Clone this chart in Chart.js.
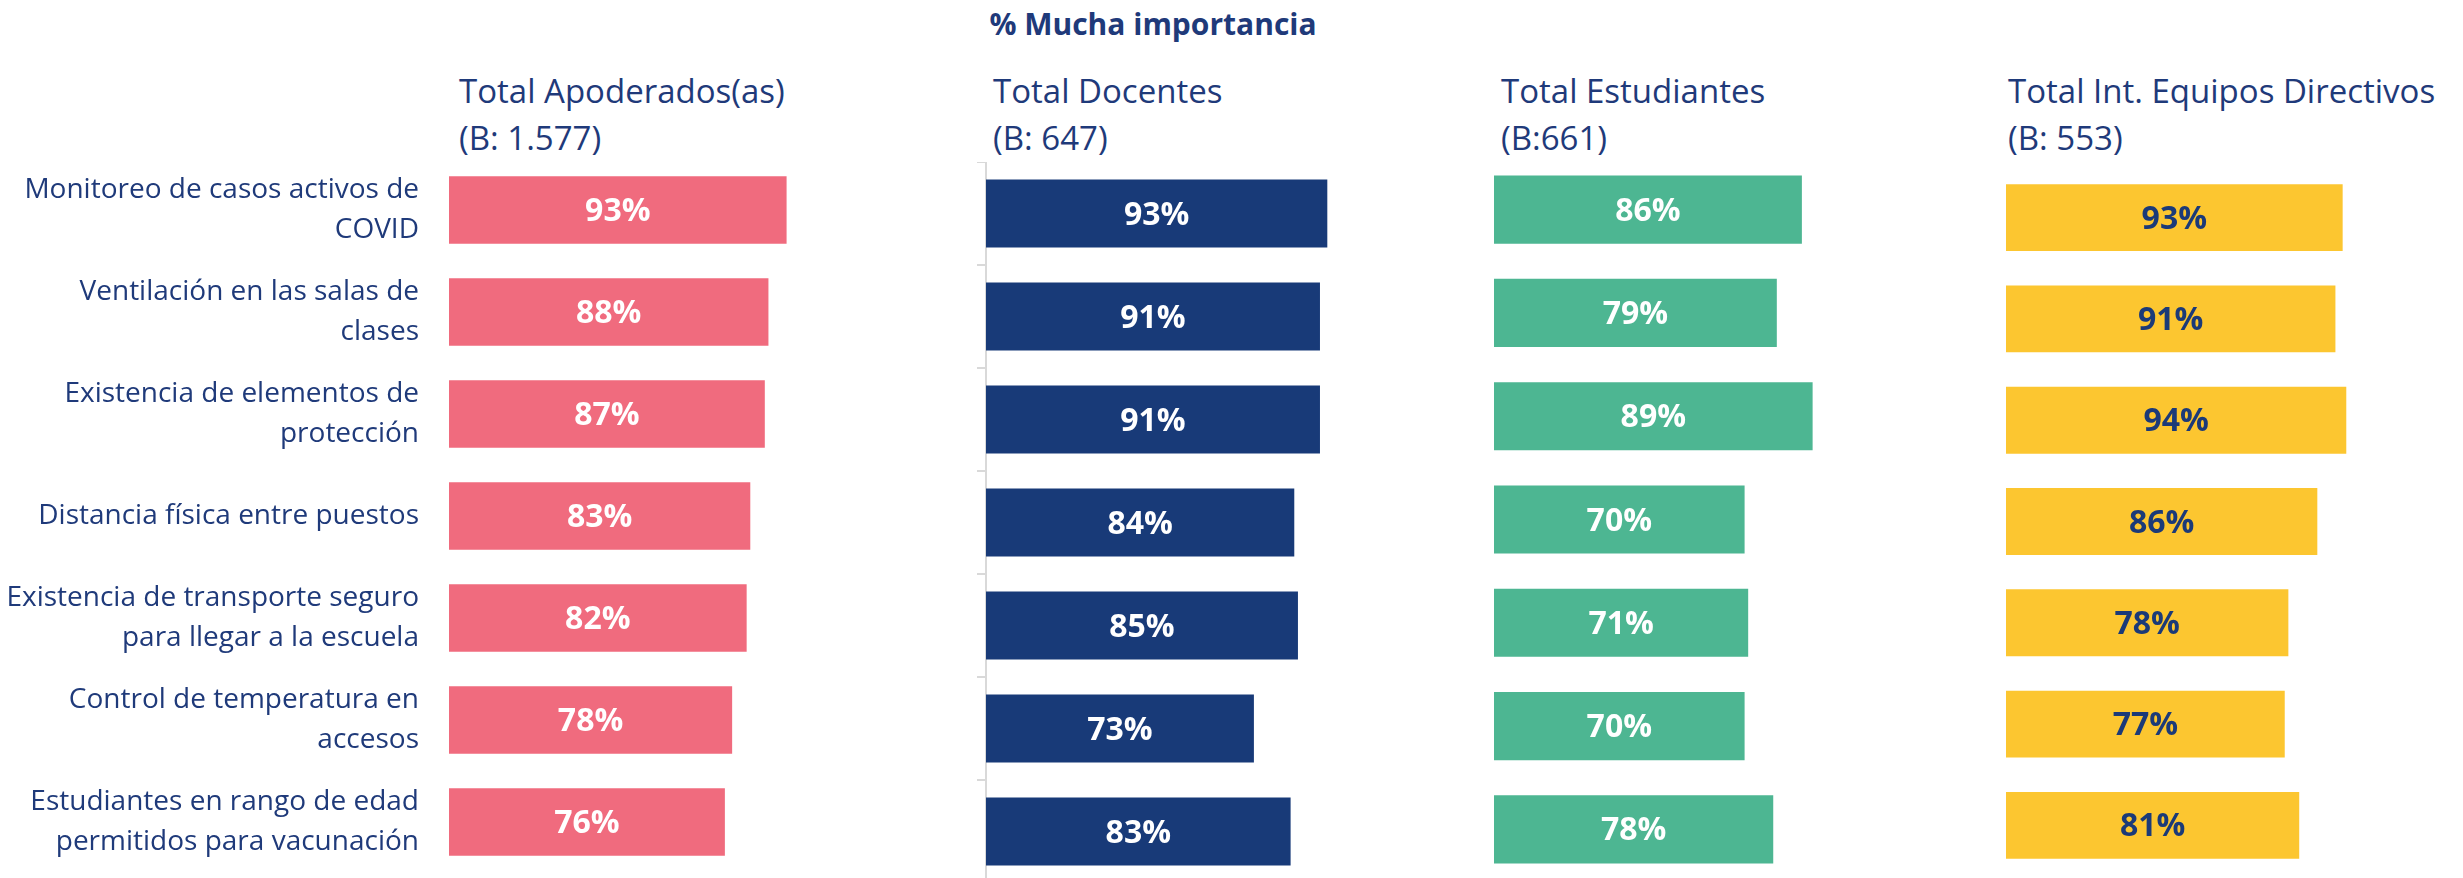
<!DOCTYPE html>
<html>
<head>
<meta charset="utf-8">
<script src="https://cdn.jsdelivr.net/npm/chart.js@4.4.0/dist/chart.umd.min.js"></script>
<style>
    body { margin: 0; width: 2463px; height: 878px; overflow: hidden; background: #fff; font-family: 'Open Sans', sans-serif; color: #1F3A7A; }
    canvas { position: absolute; }
    .title { position: absolute; top: 3px; left: 0; width: 2306px; text-align: center; font-size: 30px; font-weight: bold; }
    .head { position: absolute; top: 67px; font-size: 33px; line-height: 47px; white-space: nowrap; }
</style>
</head>
<body>
<div class="title">% Mucha importancia</div>
<div class="head" style="left:459px">Total Apoderados(as)<br>(B: 1.577)</div>
<div class="head" style="left:993px">Total Docentes<br>(B: 647)</div>
<div class="head" style="left:1501px">Total Estudiantes<br>(B:661)</div>
<div class="head" style="left:2008px">Total Int. Equipos Directivos<br>(B: 553)</div>

<canvas id="apoderadosChart" width="812" height="714" style="left:0px;top:159px"></canvas>
<canvas id="docentesChart" width="387" height="721" style="left:966px;top:162px"></canvas>
<canvas id="estudiantesChart" width="358" height="723" style="left:1494px;top:158px"></canvas>
<canvas id="directivosChart" width="362" height="709" style="left:2006px;top:167px"></canvas>

<script>
// ---------------- Data ----------------
const categories = [
    ['Monitoreo de casos activos de', 'COVID'],
    ['Ventilación en las salas de', 'clases'],
    ['Existencia de elementos de', 'protección'],
    'Distancia física entre puestos',
    ['Existencia de transporte seguro', 'para llegar a la escuela'],
    ['Control de temperatura en', 'accesos'],
    ['Estudiantes en rango de edad', 'permitidos para vacunación']
];
const apoderados = [93, 88, 87, 83, 82, 78, 76];
const docentes = [93, 91, 91, 84, 85, 73, 83];
const estudiantes = [86, 79, 89, 70, 71, 70, 78];
const directivos = [93, 91, 94, 86, 78, 77, 81];

const navy = '#1F3A7A';

// draw "93%" in the middle of each bar
const barLabels = {
    id: 'barLabels',
    afterDatasetsDraw(chart, args, opts) {
        const ctx = chart.ctx;
        const ds = chart.data.datasets[0];
        chart.getDatasetMeta(0).data.forEach((bar, i) => {
            ctx.save();
            ctx.fillStyle = opts.color;
            ctx.font = 'bold 32px "Open Sans", sans-serif';
            ctx.textAlign = 'center';
            ctx.textBaseline = 'middle';
            ctx.fillText(ds.data[i] + '%', (bar.x + bar.base) / 2, bar.y + 2);
            ctx.restore();
        });
    }
};

function makeChart(id, values, color, labelColor, yAxis) {
    const ctx = document.getElementById(id).getContext('2d');
    return new Chart(ctx, {
        type: 'bar',
        data: {
            labels: categories,
            datasets: [{ data: values, backgroundColor: color, barPercentage: 0.66, categoryPercentage: 1 }]
        },
        options: {
            indexAxis: 'y',
            responsive: false,
            animation: false,
            layout: { padding: 0 },
            plugins: {
                legend: { display: false },
                tooltip: { enabled: false },
                barLabels: { color: labelColor }
            },
            scales: {
                x: { display: false, min: 0, max: 100 },
                y: yAxis
            }
        },
        plugins: [barLabels]
    });
}

// fixed axis width, no extra room for label overhang
function fixAxis(width) {
    return axis => {
        axis.width = width;
        axis.paddingTop = 0;
        axis.paddingBottom = 0;
    };
}

// first panel carries the category labels
makeChart('apoderadosChart', apoderados, '#F06B7E', '#FFFFFF', {
    afterFit: fixAxis(449),
    grid: { display: false },
    border: { display: false },
    ticks: { color: navy, padding: 22, font: { family: 'Open Sans', size: 28, lineHeight: 1.4 } }
});

// docentes panel shows a light axis line with ticks
makeChart('docentesChart', docentes, '#183A78', '#FFFFFF', {
    afterFit: fixAxis(20),
    grid: { display: true, drawOnChartArea: false, tickLength: 9, color: '#D9D9D9', lineWidth: 2, offset: true },
    border: { display: true, color: '#D9D9D9', width: 2 },
    ticks: { display: false }
});

makeChart('estudiantesChart', estudiantes, '#4DB692', '#FFFFFF', { display: false });

makeChart('directivosChart', directivos, '#FCC630', '#1B3A78', { display: false });
</script>
</body>
</html>
